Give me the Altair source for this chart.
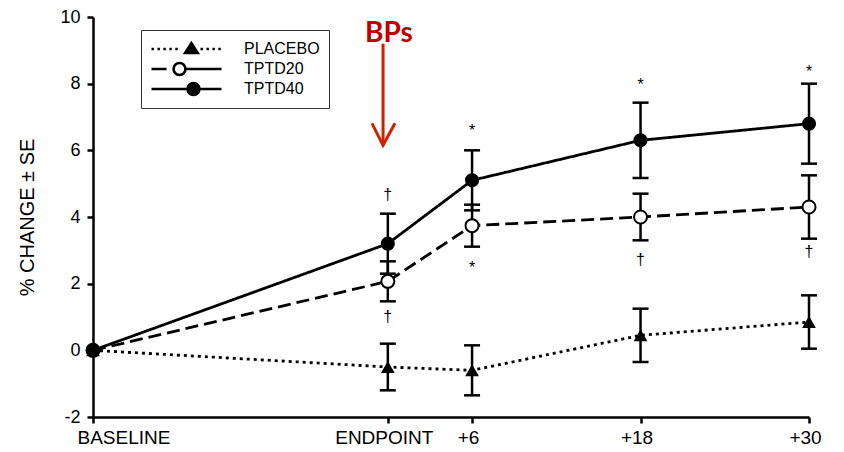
import altair as alt
import pandas as pd

# ---------------- data ----------------
months = [0, 21, 27, 39, 51]
tick_labels = ["BASELINE", "ENDPOINT", "+6", "+18", "+30"]
series = ["PLACEBO", "TPTD20", "TPTD40"]

placebo_mean = [0.0, -0.5, -0.6, 0.45, 0.85]
placebo_se = [0.0, 0.7, 0.75, 0.8, 0.8]
tptd20_mean = [0.0, 2.07, 3.74, 4.0, 4.3]
tptd20_se = [0.0, 0.6, 0.63, 0.7, 0.95]
tptd40_mean = [0.0, 3.2, 5.1, 6.3, 6.8]
tptd40_se = [0.0, 0.9, 0.9, 1.13, 1.2]

y_ticks = [-2, 0, 2, 4, 6, 8, 10]

ann_x = [21, 21, 27, 27, 39, 39, 51, 51]
ann_y = [4.65, 0.99, 6.57, 2.46, 7.95, 2.7, 8.34, 2.94]
ann_text = ["†", "†", "*", "*", "*", "†", "*", "†"]

bps_text = ["BPs"]
bps_x = [21.08]
bps_y = [9.25]
arrow_x = [20.66]
arrow_top = [9.2]
arrow_tip = [6.15]
head_x = [19.87, 20.66, 21.51]
head_y = [6.81, 6.15, 6.81]

# ---------------- tables ----------------
rows = []
for name, means, ses in [("PLACEBO", placebo_mean, placebo_se),
                         ("TPTD20", tptd20_mean, tptd20_se),
                         ("TPTD40", tptd40_mean, tptd40_se)]:
    for m, v, e in zip(months, means, ses):
        rows.append({"series": name, "month": m, "mean": v,
                     "lo": v - e, "hi": v + e, "se": e})
df = pd.DataFrame(rows)
ann_df = pd.DataFrame({"x": ann_x, "y": ann_y, "t": ann_text})
bps_df = pd.DataFrame({"x": bps_x, "y": bps_y, "t": bps_text})
shaft_df = pd.DataFrame({"x": arrow_x, "y": arrow_top, "y2": arrow_tip})
head_df = pd.DataFrame({"x": head_x, "y": head_y, "o": list(range(len(head_x)))})

# ---------------- legend symbol paths (style only) ----------------
def seg(a, b):
    return f"M{a:.3f},0L{b:.3f},0"

def dotted(a, b, dot=0.07, period=0.17):
    out, p = [], a
    while p + dot <= b + 1e-9:
        out.append(seg(p, p + dot))
        p += period
    return "".join(out)

def circ(cx, r):
    return (f"M{cx - r:.3f},0A{r},{r} 0 1,0 {cx + r:.3f},0"
            f"A{r},{r} 0 1,0 {cx - r:.3f},0Z")

tri_c = 0.14
path_placebo = (dotted(-1, tri_c - 0.26) + dotted(tri_c + 0.26, 1)
                + f"M{tri_c - 0.18:.3f},0.11L{tri_c:.3f},-0.17L{tri_c + 0.18:.3f},0.11Z")
c20 = -0.2
r_leg = 0.17
path_20 = seg(-1, -0.57) + seg(c20 + r_leg, 1) + circ(c20, r_leg)
c40 = 0.2
path_40 = seg(-1, 1) + circ(c40, r_leg)

# ---------------- scales / axes ----------------
x_scale = alt.Scale(domain=[0, 51], nice=False, zero=False)
y_scale = alt.Scale(domain=[-2, 10], nice=False, zero=False)

label_expr = " : ".join(f"datum.value == {m} ? '{t}'" for m, t in zip(months, tick_labels)) + " : ''"

common_axis = dict(grid=False, domainColor="black", domainWidth=2.5,
                   tickColor="black", tickWidth=2.5, tickSize=6,
                   labelFont="Liberation Sans", labelColor="black")

x_axis = alt.Axis(values=months, labelExpr=label_expr, title=None,
                  labelFontSize=19, labelPadding=5, labelOverlap=False,
                  labelFlush=False, labelBound=False,
                  labelAlign={"condition": {"test": "datum.value == 0", "value": "left"}, "value": "center"},
                  labelOffset={"condition": {"test": "datum.value == 0", "value": -16}, "value": -4},
                  **common_axis)
y_axis = alt.Axis(values=y_ticks, title="% CHANGE ± SE", labelFontSize=18,
                  labelExpr="'' + datum.value",
                  labelPadding=7, titleFont="Liberation Sans", titleFontSize=20,
                  titleFontWeight="normal", titleColor="black", titlePadding=22,
                  **common_axis)

X = alt.X("month:Q", scale=x_scale, axis=x_axis)
Y = alt.Y("mean:Q", scale=y_scale, axis=y_axis)

base = alt.Chart(df)

dashes = {"PLACEBO": [3, 4], "TPTD20": [13, 6], "TPTD40": [1, 0]}
line_layers = [
    base.transform_filter(alt.datum.series == s).mark_line(
        color="black", strokeWidth=2.8, strokeDash=dashes[s]).encode(x=X, y=Y, order="month:Q")
    for s in series
]

err = base.transform_filter("datum.se > 0")
rules = err.mark_rule(color="black", strokeWidth=2.5).encode(
    x=alt.X("month:Q", scale=x_scale), y=alt.Y("lo:Q", scale=y_scale), y2="hi:Q")
caps_lo = err.mark_tick(color="black", orient="horizontal", size=16, thickness=2.5, opacity=1).encode(
    x=alt.X("month:Q", scale=x_scale), y=alt.Y("lo:Q", scale=y_scale))
caps_hi = err.mark_tick(color="black", orient="horizontal", size=16, thickness=2.5, opacity=1).encode(
    x=alt.X("month:Q", scale=x_scale), y=alt.Y("hi:Q", scale=y_scale))

pts_placebo = base.transform_filter(alt.datum.series == "PLACEBO").mark_point(
    shape="triangle-up", filled=True, color="black", size=190, opacity=1).encode(x=X, y=Y)
pts_20 = base.transform_filter(alt.datum.series == "TPTD20").mark_point(
    shape="circle", filled=True, fill="white", stroke="black", strokeWidth=2,
    size=170, opacity=1).encode(x=X, y=Y)
pts_40 = base.transform_filter(alt.datum.series == "TPTD40").mark_point(
    shape="circle", filled=True, color="black", size=200, opacity=1).encode(x=X, y=Y)

ann = alt.Chart(ann_df).mark_text(font="Liberation Sans", fontSize=16, color="black",
                                  baseline="middle", align="center").encode(
    x=alt.X("x:Q", scale=x_scale), y=alt.Y("y:Q", scale=y_scale), text="t:N")

bps = alt.Chart(bps_df).mark_text(font="Lato", fontWeight="bold", fontSize=28,
                                  color="#c00000", baseline="alphabetic", align="center").encode(
    x=alt.X("x:Q", scale=x_scale), y=alt.Y("y:Q", scale=y_scale), text="t:N")
shaft = alt.Chart(shaft_df).mark_rule(color="#d02000", strokeWidth=3).encode(
    x=alt.X("x:Q", scale=x_scale), y=alt.Y("y:Q", scale=y_scale), y2="y2:Q")
head = alt.Chart(head_df).mark_line(color="#d02000", strokeWidth=3, strokeJoin="miter").encode(
    x=alt.X("x:Q", scale=x_scale), y=alt.Y("y:Q", scale=y_scale), order="o:Q")

leg = alt.Legend(orient="none", legendX=48, legendY=13, title=None, padding=9,
                 strokeColor="#333333", fillColor="white", symbolSize=4900,
                 symbolStrokeWidth=2.6, symbolOpacity=1, clipHeight=20, rowPadding=0,
                 labelOffset=21, labelFont="Liberation Sans", labelFontSize=16,
                 labelColor="black")
# legend-only layer: all rows filtered out, it only feeds the legend
legend_layer = base.transform_filter("false").mark_point(
    stroke="black", strokeWidth=2.6).encode(
    x=alt.X("month:Q", scale=x_scale), y=alt.Y("mean:Q", scale=y_scale),
    shape=alt.Shape("series:N", scale=alt.Scale(domain=series, range=[path_placebo, path_20, path_40]), legend=leg),
    fill=alt.Fill("series:N", scale=alt.Scale(domain=series, range=["black", "white", "black"]), legend=leg),
)

chart = alt.layer(*line_layers, rules, caps_lo, caps_hi, pts_placebo, pts_20, pts_40,
                  ann, shaft, head, bps, legend_layer).properties(
    width=716, height=400,
    padding={"left": 93, "top": 17, "right": 35, "bottom": 35},
    autosize=alt.AutoSizeParams(type="none"),
    background="white",
).configure_view(stroke=None)

chart.save("out.html", embed_options={"renderer": "svg", "actions": False})
